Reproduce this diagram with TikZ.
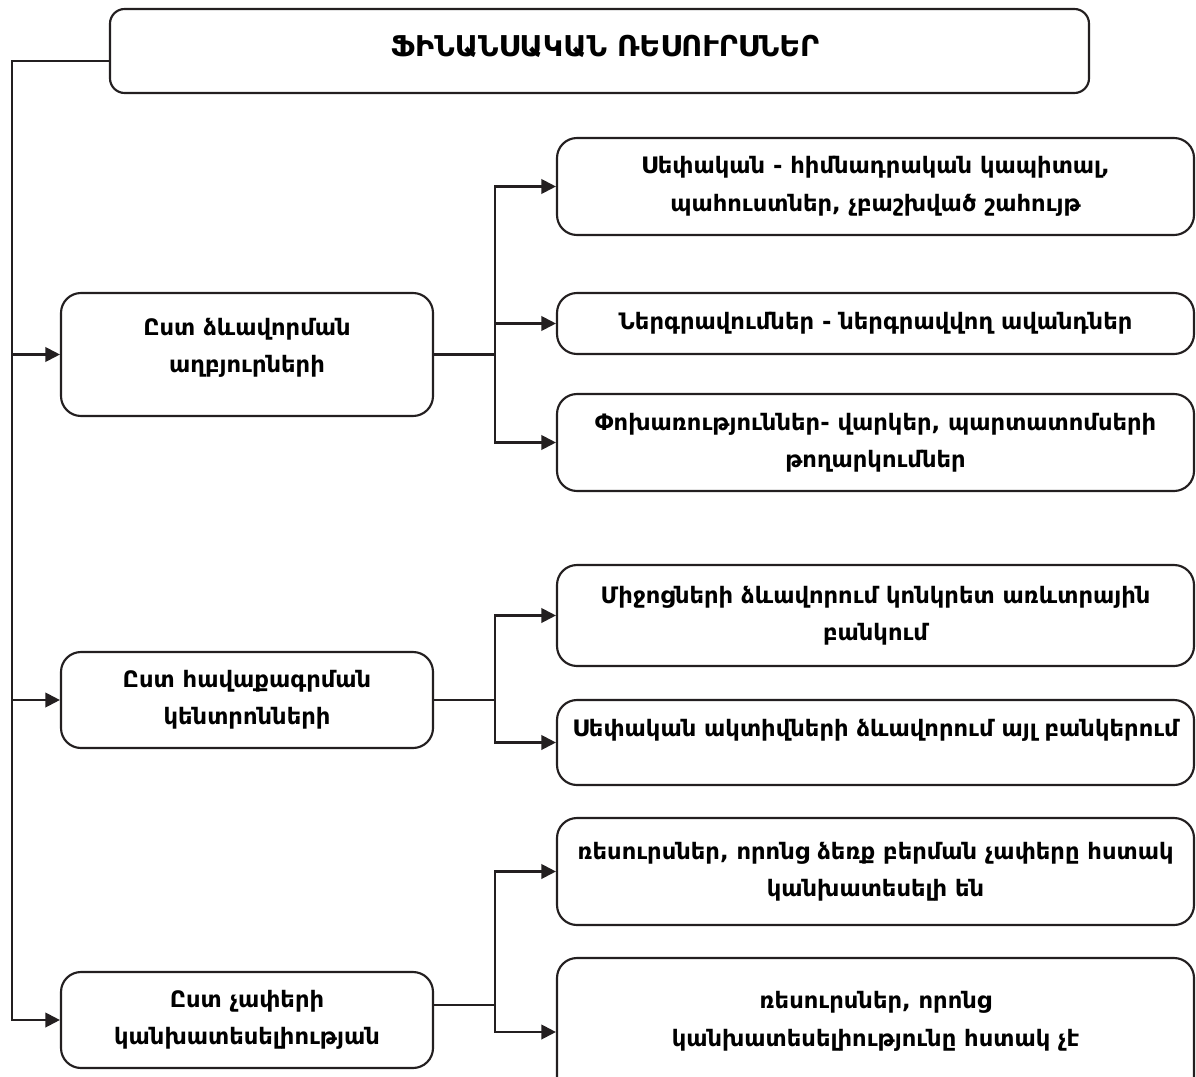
\documentclass[tikz,border=0pt]{standalone}
\usepackage{fontspec}
\setmainfont{DejaVu Sans}
\usetikzlibrary{arrows.meta,calc}
\definecolor{ln}{HTML}{231F20}
\tikzset{
  box/.style={draw=ln, line width=1.6pt, rounded corners=15pt, align=center,
    font=\bfseries\fontsize{17}{28}\selectfont, inner sep=0pt, text=black},
  leftbox/.style={box, minimum width=279pt},
  rightbox/.style={box, minimum width=477.75pt},
  conn/.style={draw=ln, line width=1.6pt},
  arr/.style={conn, -{Triangle[length=11pt,width=11pt]}},
}
\begin{document}
\begin{tikzpicture}[x=0.75pt,y=-0.75pt]
\useasboundingbox (0,0) rectangle (1196,1077);
\clip (0,0) rectangle (1196,1077);
% title
\node[box, rounded corners=11pt, minimum width=734.25pt, minimum height=63pt] (T) at (599.5,51) {};
\node[font=\bfseries\fontsize{21.5}{26}\selectfont, text=black] (Tt) at (605,46) {ՖԻՆԱՆՍԱԿԱՆ ՌԵՍՈՒՐՍՆԵՐ};
% left boxes
\node[leftbox, minimum height=92.25pt] (B1) at (247,354.5) {Ըստ ձևավորման\\աղբյուրների\\[-14.5pt]\mbox{}};
\node[leftbox, minimum height=72pt] (B2) at (247,700) {Ըստ հավաքագրման\\կենտրոնների};
\node[leftbox, minimum height=72pt] (B3) at (247,1020) {Ըստ չափերի\\կանխատեսելիության};
% right boxes
\node[rightbox, minimum height=72.75pt] (A) at (875.5,186.5) {Սեփական - հիմնադրական կապիտալ,\\պահուստներ, չբաշխված շահույթ};
\node[rightbox, minimum height=45.75pt] (Bb) at (875.5,323.5) {Ներգրավումներ - ներգրավվող ավանդներ};
\node[rightbox, minimum height=72.75pt] (C) at (875.5,442.5) {Փոխառություններ- վարկեր, պարտատոմսերի\\թողարկումներ};
\node[rightbox, minimum height=75.75pt] (D) at (875.5,615.5) {Միջոցների ձևավորում կոնկրետ առևտրային\\բանկում};
\node[rightbox, minimum height=63.75pt] (E) at (875.5,742.5) {Սեփական ակտիվների ձևավորում այլ բանկերում\\[-6pt]\mbox{}};
\node[rightbox, minimum height=80.25pt] (F) at (875.5,871.5) {ռեսուրսներ, որոնց ձեռք բերման չափերը հստակ\\կանխատեսելի են};
\node[rightbox, minimum height=111pt] (G) at (875.5,1032) {ռեսուրսներ, որոնց\\կանխատեսելիությունը հստակ չէ\\[-8.5pt]\mbox{}};
% spine
\coordinate (spine) at (12,0);
\coordinate (j) at (495,0);
\draw[arr] ([yshift=-7.5pt]T.west) -| (spine |- B3.west) -- (B3.west);
\draw[arr] (spine |- B1.west) -- (B1.west);
\draw[arr] (spine |- B2.west) -- (B2.west);
% branches
\draw[conn] (B1.east) -- (j |- B1.east);
\draw[arr] (j |- B1.east) |- (A.west);
\draw[arr] (j |- B1.east) |- (Bb.west);
\draw[arr] (j |- B1.east) |- (C.west);
\draw[conn] (B2.east) -- (j |- B2.east);
\draw[arr] (j |- B2.east) |- (D.west);
\draw[arr] (j |- B2.east) |- (E.west);
\coordinate (b3o) at ([yshift=11pt]B3.east);
\draw[conn] (b3o) -- (j |- b3o);
\draw[arr] (j |- b3o) |- (F.west);
\draw[arr] (j |- b3o) |- (G.west);
\end{tikzpicture}
\end{document}
